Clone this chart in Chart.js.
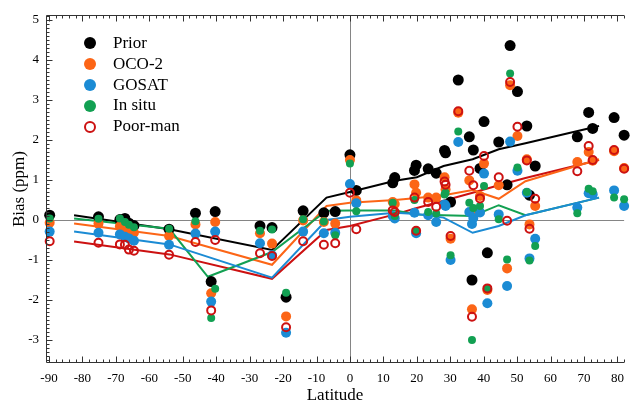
<!DOCTYPE html>
<html lang="en">
<head>
<meta charset="UTF-8">
<title>Bias by latitude</title>
<script src="https://cdn.jsdelivr.net/npm/chart.js@4.4.0/dist/chart.umd.min.js"></script>
<style>
body { margin: 0; background: #fff; }
#wrap { position: relative; width: 632px; height: 404px; }
#legend { position: absolute; left: 84px; top: 33px; font-family: "Liberation Serif", serif; font-size: 17px; color: #000; }
.item { position: relative; height: 20.8px; line-height: 20.8px; padding-left: 29px; white-space: nowrap; }
.dot { position: absolute; left: 0; top: 4.4px; width: 12px; height: 12px; border-radius: 50%; box-sizing: border-box; }
</style>
</head>
<body>
<div id="wrap">
  <canvas id="chart" width="632" height="404"></canvas>
  <div id="legend"></div>
</div>
<script>
// station latitudes and bias per data set (ppm)
const LAT     = [-89.8, -75.2, -68.8, -67.3, -66.1, -64.6, -54.1, -46.2, -41.5, -40.3, -26.9, -23.3, -19.1, -14.0, -7.8, -4.4, 0.0, 1.9, 12.8, 13.4, 19.3, 19.8, 23.4, 25.8, 28.3, 28.6, 30.1, 32.4, 35.7, 36.5, 36.9, 38.9, 40.1, 41.1, 44.5, 47.0, 47.9, 50.1, 52.9, 53.7, 55.4, 68.0, 71.4, 72.6, 79.0, 82.0]
const PRIOR   = [0.12, 0.08, 0.01, 0.04, -0.08, -0.14, -0.23, 0.17, -1.54, 0.21, -0.15, -0.19, -1.93, 0.23, 0.18, 0.21, 1.63, 0.74, 0.93, 1.06, 1.24, 1.37, 1.28, 1.17, 1.74, 1.68, 0.45, 3.5, 2.08, -1.5, 1.75, 1.29, 2.46, -0.82, 1.95, 0.88, 4.36, 3.21, 2.35, 0.62, 1.35, 2.08, 2.69, 2.29, 2.56, 2.12]
const OCO2    = [-0.07, -0.09, -0.16, -0.2, -0.26, -0.32, -0.4, -0.11, -1.83, -0.05, -0.33, -0.59, -2.41, -0.01, -0.05, -0.09, 1.5, 0.49, 0.45, 0.4, 0.89, 0.68, 0.56, 0.56, 1.07, 0.77, -0.47, 2.68, 0.99, -2.23, 0.18, 0.6, 1.41, -1.75, 0.87, -1.21, 3.37, 2.1, 1.52, -0.11, 0.35, 1.45, 1.7, 1.48, 1.72, 1.3]
const GOSAT   = [-0.29, -0.32, -0.36, -0.42, -0.46, -0.52, -0.62, -0.34, -2.04, -0.29, -0.58, -0.88, -2.82, -0.29, -0.33, -0.32, 0.9, 0.42, 0.1, 0.04, 0.18, -0.33, 0.12, -0.05, 0.39, 0.35, -1.0, 1.95, 0.2, -0.1, 0.05, 0.19, 1.16, -2.08, 0.14, -1.65, 1.96, 1.23, 0.68, -0.96, -0.47, 0.31, 0.67, 0.64, 0.74, 0.35]
const INSITU  = [0.04, 0.03, 0.04, -0.05, -0.12, -0.18, -0.22, -0.03, -2.45, -1.72, -0.27, -0.24, -1.82, 0.02, -0.04, -0.38, 1.41, 0.22, 0.43, 0.1, 0.5, -0.26, 0.2, 0.16, 0.64, 0.68, -0.88, 2.21, 0.43, -3.0, 0.3, 0.35, 0.85, -1.71, 0.02, -0.99, 3.66, 1.31, 0.7, -1.01, -0.65, 0.17, 0.78, 0.72, 0.56, 0.52]
const POORMAN = [-0.53, -0.57, -0.61, -0.62, -0.74, -0.77, -0.87, -0.55, -2.26, -0.5, -0.83, -0.9, -2.68, -0.53, -0.62, -0.58, 0.68, -0.23, 0.24, 0.2, 0.56, -0.27, 0.45, 0.33, 0.96, 0.88, -0.4, 2.72, 1.23, -2.42, 0.87, 0.54, 1.6, -1.71, 1.07, -0.02, 3.45, 2.33, 1.49, -0.22, 0.53, 1.22, 1.85, 1.5, 1.75, 1.28]

// zonal mean curves
const BAND_LAT    = [-82.5, -54, -23.3, -7, 0, 13.5, 20, 28, 36.7, 44.5, 52.5, 74.5]
const PRIOR_BAND  = [0.12, -0.23, -0.75, 0.56, 0.7, 0.98, 1.07, 1.35, 1.52, 1.77, 1.92, 2.35]
const OCO2_BAND   = [-0.09, -0.4, -1.12, 0.35, 0.43, 0.5, 0.55, 0.62, 0.75, 0.53, 0.97, 1.52]
const GOSAT_BAND  = [-0.29, -0.61, -1.44, 0.0, 0.08, 0.18, 0.15, 0.06, -0.32, -0.15, 0.12, 0.56]
const INSITU_LAT  = [-82.5, -54, -42.5, -23.3, -7, 0, 13.5, 20, 28, 36.7, 44.5, 52.5, 74.5]
const INSITU_BAND = [0.04, -0.22, -1.42, -0.8, 0.23, 0.24, 0.24, 0.14, 0.12, 0.1, 0.37, 0.12, 0.56]
const POOR_BAND   = [-0.54, -0.86, -1.47, -0.25, -0.15, 0.14, 0.3, 0.48, 0.68, 0.87, 1.05, 1.5]

const X_TICKS = [-90, -80, -70, -60, -50, -40, -30, -20, -10, 0, 10, 20, 30, 40, 50, 60, 70, 80]
const Y_TICKS = [-3, -2, -1, 0, 1, 2, 3, 4, 5]

const BLACK = '#000000', ORANGE = '#fc6516', BLUE = '#1b8bd4', GREEN = '#12a052', RED = '#cc1111'
const FONT = '"Liberation Serif", "Times New Roman", serif'

const pts = (xs, ys) => xs.map((x, i) => ({ x: x, y: ys[i] }))

function scatterSet(label, ys, color, r, order, hollow) {
  return {
    type: 'scatter', label: label, data: pts(LAT, ys), order: order, clip: false,
    pointRadius: r, pointBackgroundColor: hollow ? 'rgba(0,0,0,0)' : color,
    pointBorderColor: color, pointBorderWidth: hollow ? 2 : 0, showLine: false
  }
}
function lineSet(xs, ys, color) {
  return {
    type: 'line', data: pts(xs, ys), order: 10, borderColor: color, borderWidth: 2,
    pointRadius: 0, tension: 0, fill: false, showLine: true
  }
}

// axes frame, inward ticks and zero cross-hair
const frame = {
  id: 'frame',
  beforeDatasetsDraw(chart) {
    const { ctx, chartArea: a, scales: { x, y } } = chart
    const x0 = Math.round(x.getPixelForValue(0)) + 0.5
    const y0 = Math.round(y.getPixelForValue(0)) + 0.5
    ctx.save()
    ctx.strokeStyle = '#858585'
    ctx.lineWidth = 1
    ctx.beginPath()
    ctx.moveTo(x0, a.top); ctx.lineTo(x0, a.bottom)
    ctx.moveTo(a.left, y0); ctx.lineTo(a.right, y0)
    ctx.stroke()
    ctx.restore()
  },
  afterDraw(chart) {
    const { ctx, chartArea: a, scales: { x, y } } = chart
    const L = a.left + 0.5, T = a.top + 0.5, B = a.bottom - 0.5
    ctx.save()
    ctx.strokeStyle = '#333'
    ctx.lineWidth = 1
    ctx.beginPath()
    ctx.moveTo(a.right, T); ctx.lineTo(L, T); ctx.lineTo(L, B); ctx.lineTo(a.right, B)
    // x ticks, minor every 2
    for (let v = -90; v <= 82; v += 2) {
      const px = Math.round(x.getPixelForValue(v)) + 0.5
      const len = v % 10 === 0 ? 6 : 3
      ctx.moveTo(px, B); ctx.lineTo(px, B - len)
      ctx.moveTo(px, T); ctx.lineTo(px, T + len)
    }
    // y ticks, minor every 0.1
    for (let k = -35; k <= 51; k++) {
      const py = Math.round(y.getPixelForValue(k / 10)) + 0.5
      const len = k % 10 === 0 ? 6 : 3
      ctx.moveTo(L, py); ctx.lineTo(L + len, py)
    }
    ctx.stroke()
    ctx.restore()
  }
}

const chart = new Chart(document.getElementById('chart'), {
  data: {
    datasets: [
      scatterSet('Prior', PRIOR, BLACK, 5.5, 6, false),
      scatterSet('OCO-2', OCO2, ORANGE, 5, 5, false),
      scatterSet('GOSAT', GOSAT, BLUE, 5, 4, false),
      scatterSet('In situ', INSITU, GREEN, 4, 3, false),
      scatterSet('Poor-man', POORMAN, RED, 4, 2, true),
      lineSet(BAND_LAT, GOSAT_BAND, BLUE),
      lineSet(INSITU_LAT, INSITU_BAND, GREEN),
      lineSet(BAND_LAT, OCO2_BAND, ORANGE),
      lineSet(BAND_LAT, POOR_BAND, RED),
      lineSet(BAND_LAT, PRIOR_BAND, BLACK)
    ]
  },
  options: {
    responsive: false,
    animation: false,
    events: [],
    layout: { padding: { top: 15, right: 0, left: 0, bottom: 0 } },
    plugins: { legend: { display: false }, tooltip: { enabled: false } },
    scales: {
      x: {
        type: 'linear', min: -90.9, max: 82,
        afterBuildTicks: s => { s.ticks = X_TICKS.map(v => ({ value: v })) },
        afterFit: s => { s.height = 41 },
        grid: { display: false, drawTicks: false },
        border: { display: false },
        ticks: { color: '#000', padding: 8, maxRotation: 0, autoSkip: false, font: { family: FONT, size: 13 }, callback: v => String(v) },
        title: { display: true, text: 'Latitude', color: '#000', font: { family: FONT, size: 17, lineHeight: 1 }, padding: { top: -4, bottom: 0 } }
      },
      y: {
        type: 'linear', min: -3.575, max: 5.125,
        afterBuildTicks: s => { s.ticks = Y_TICKS.map(v => ({ value: v })) },
        afterFit: s => { s.width = 46 },
        grid: { display: false, drawTicks: false },
        border: { display: false },
        ticks: { color: '#000', padding: 7, font: { family: FONT, size: 13 }, callback: v => String(v) },
        title: { display: true, text: 'Bias (ppm)', color: '#000', font: { family: FONT, size: 17, lineHeight: 1 }, padding: { top: 11, bottom: 0 } }
      }
    }
  },
  plugins: [frame]
})

// legend inside the plot
const legend = document.getElementById('legend')
chart.data.datasets.slice(0, 5).forEach((ds, i) => {
  const item = document.createElement('div')
  item.className = 'item'
  const dot = document.createElement('span')
  dot.className = 'dot'
  if (i === 4) {
    dot.style.border = '2.5px solid ' + ds.pointBorderColor
  } else {
    dot.style.background = ds.pointBackgroundColor
  }
  item.appendChild(dot)
  item.appendChild(document.createTextNode(ds.label))
  legend.appendChild(item)
})
</script>
</body>
</html>
